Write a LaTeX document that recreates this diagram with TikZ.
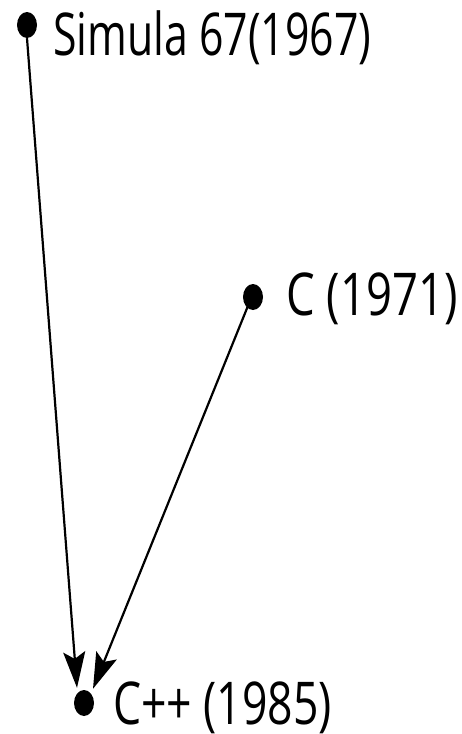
\documentclass[tikz,border=0pt]{standalone}
\usepackage{fontspec}
\setmainfont{Open Sans}
\usetikzlibrary{shapes.geometric,arrows.meta}
\tikzset{
  dot/.style={ellipse,fill=black,minimum width=20pt,minimum height=26pt,inner sep=0pt},
  lbl/.style={anchor=base west,inner sep=0pt,font=\fontsize{59}{62}\selectfont},
  link/.style={line width=2.2pt,arrows={-Stealth[length=36pt,width=22pt,inset=7pt,fill=black]}}
}
\begin{document}
\begin{tikzpicture}
\useasboundingbox (0pt,0pt) rectangle (462pt,-734pt);
\node[dot] (sim) at (27pt,-25pt) {};
\node[dot] (c) at (253pt,-297pt) {};
\node[dot] (cpp) at (84pt,-703pt) {};
\node[lbl] (simt) at (53pt,-55pt) {\scalebox{0.725}[1]{Simula 67(1967)}};
\node[lbl] (ct) at (286pt,-315pt) {\scalebox{0.77}[1]{C (1971)}};
\node[lbl] (cppt) at (113pt,-724pt) {\scalebox{0.755}[1]{C++ (1985)}};
\draw[link] (sim.south) -- ([xshift=-7pt,yshift=2pt]cpp.north);
\draw[link] ([xshift=2pt]c.south west) -- ([xshift=9pt,yshift=1pt]cpp.north);
\end{tikzpicture}
\end{document}
